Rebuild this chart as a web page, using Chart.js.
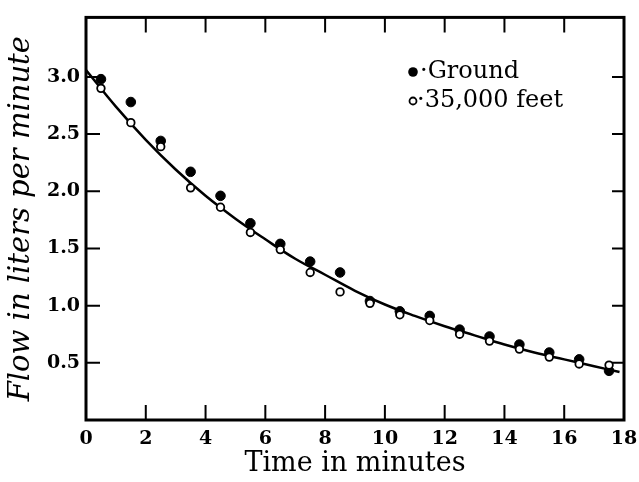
<!DOCTYPE html>
<html>
<head>
<meta charset="utf-8">
<script src="https://cdn.jsdelivr.net/npm/chart.js@4/dist/chart.umd.min.js"></script>
<style>
  html, body { margin: 0; padding: 0; background: #fff; }
  #wrap { width: 639px; height: 482px; }
</style>
</head>
<body>
<div id="wrap"><canvas id="c" width="639" height="482"></canvas></div>
<script>
// Data
const times = [0.5, 1.5, 2.5, 3.5, 4.5, 5.5, 6.5, 7.5, 8.5, 9.5, 10.5, 11.5, 12.5, 13.5, 14.5, 15.5, 16.5, 17.5];
const groundFlow = [2.98, 2.78, 2.44, 2.17, 1.96, 1.72, 1.54, 1.385, 1.29, 1.04, 0.95, 0.91, 0.79, 0.73, 0.66, 0.59, 0.53, 0.43];
const altitudeFlow = [2.90, 2.60, 2.39, 2.03, 1.86, 1.64, 1.49, 1.29, 1.12, 1.02, 0.92, 0.87, 0.75, 0.69, 0.62, 0.55, 0.49, 0.48];
const curveTimes = [0, 1, 2, 3, 4, 5, 6, 7, 8, 9, 10, 11, 12, 13, 14, 15, 16, 17, 17.85];
const curveFlow = [3.06, 2.74, 2.45, 2.19, 1.96, 1.76, 1.58, 1.41, 1.27, 1.13, 1.01, 0.91, 0.82, 0.74, 0.66, 0.59, 0.53, 0.47, 0.42];
const xTickValues = [0, 2, 4, 6, 8, 10, 12, 14, 16, 18];
const yTickValues = [0.5, 1.0, 1.5, 2.0, 2.5, 3.0];
const seriesNames = ['Ground', '35,000 feet'];

const pts = (xs, ys) => xs.map((x, i) => ({ x: x, y: ys[i] }));

const framePlugin = {
  id: 'frame',
  afterDatasetsDraw(chart) {
    const ctx = chart.ctx;
    const a = chart.chartArea;
    const xs = chart.scales.x, ys = chart.scales.y;
    ctx.save();
    ctx.strokeStyle = '#000';
    ctx.lineWidth = 3;
    ctx.strokeRect(a.left, a.top, a.right - a.left, a.bottom - a.top);
    ctx.lineWidth = 2;
    ctx.beginPath();
    xTickValues.forEach(v => {
      if (v <= xs.min || v >= xs.max) return;
      const px = xs.getPixelForValue(v);
      ctx.moveTo(px, a.bottom); ctx.lineTo(px, a.bottom - 15);
      ctx.moveTo(px, a.top); ctx.lineTo(px, a.top + 15);
    });
    yTickValues.forEach(v => {
      const py = ys.getPixelForValue(v);
      ctx.moveTo(a.left, py); ctx.lineTo(a.left + 14, py);
      ctx.moveTo(a.right, py); ctx.lineTo(a.right - 12, py);
    });
    ctx.stroke();
    // legend
    ctx.fillStyle = '#000';
    ctx.font = '24px "DejaVu Serif"';
    ctx.textBaseline = 'middle';
    ctx.textAlign = 'left';
    ctx.beginPath(); ctx.arc(413, 72, 4.8, 0, Math.PI * 2); ctx.fill();
    ctx.fillText('·' + seriesNames[0], 420, 72);
    ctx.beginPath(); ctx.arc(413, 101, 3.5, 0, Math.PI * 2);
    ctx.fillStyle = '#fff'; ctx.fill();
    ctx.lineWidth = 1.8; ctx.strokeStyle = '#000'; ctx.stroke();
    ctx.fillStyle = '#000';
    ctx.fillText('·' + seriesNames[1], 417, 101);
    ctx.restore();
  }
};

new Chart(document.getElementById('c'), {
  type: 'scatter',
  data: {
    datasets: [
      {
        label: 'curve',
        data: pts(curveTimes, curveFlow),
        showLine: true,
        borderColor: '#000',
        borderWidth: 2.5,
        pointRadius: 0,
        tension: 0.4,
        fill: false,
        order: 3
      },
      {
        label: seriesNames[0],
        data: pts(times, groundFlow),
        pointRadius: 4.8,
        pointBackgroundColor: '#000',
        pointBorderColor: '#000',
        pointBorderWidth: 1,
        order: 2
      },
      {
        label: seriesNames[1],
        data: pts(times, altitudeFlow),
        pointRadius: 3.8,
        pointBackgroundColor: '#fff',
        pointBorderColor: '#000',
        pointBorderWidth: 1.8,
        order: 1
      }
    ]
  },
  options: {
    responsive: false,
    animation: false,
    layout: { padding: { top: 8, right: 15, left: 0, bottom: 0 } },
    plugins: { legend: { display: false }, tooltip: { enabled: false } },
    scales: {
      x: {
        type: 'linear',
        min: 0, max: 18,
        afterBuildTicks: s => { s.ticks = xTickValues.map(v => ({ value: v })); },
        afterFit: s => { s.height = 62; s.paddingRight = 0; s.paddingLeft = 0; },
        grid: { display: false, drawTicks: false },
        border: { display: false },
        ticks: {
          color: '#000', padding: 8, autoSkip: false, maxRotation: 0,
          font: { family: 'DejaVu Serif', size: 19, weight: 'bold' }
        },
        title: {
          display: true, text: 'Time in minutes', color: '#000',
          padding: { top: 0, bottom: 2 },
          font: { family: 'DejaVu Serif', size: 27 }
        }
      },
      y: {
        type: 'linear',
        min: 0, max: 3.52,
        afterBuildTicks: s => { s.ticks = yTickValues.map(v => ({ value: v })); },
        afterFit: s => { s.width = 86; },
        grid: { display: false, drawTicks: false },
        border: { display: false },
        ticks: {
          color: '#000', padding: 6,
          callback: v => v.toFixed(1),
          font: { family: 'DejaVu Serif', size: 19, weight: 'bold' }
        },
        title: {
          display: true, text: 'Flow in liters per minute', color: '#000',
          padding: { top: 4, bottom: 0 },
          font: { family: 'DejaVu Serif', size: 29, style: 'italic' }
        }
      }
    }
  },
  plugins: [framePlugin]
});
</script>
</body>
</html>
